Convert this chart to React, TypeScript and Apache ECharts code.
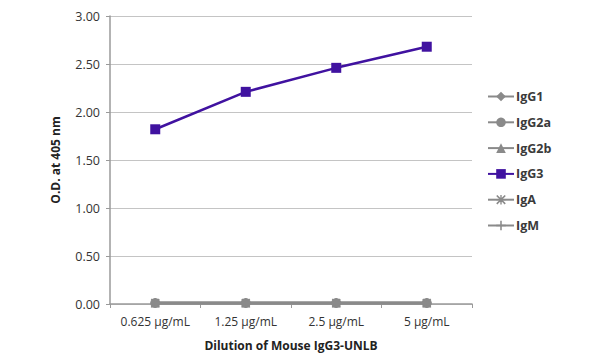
import React, { useEffect, useRef } from "react";
import * as echarts from "echarts";

const categories = ["0.625 µg/mL", "1.25 µg/mL", "2.5 µg/mL", "5 µg/mL"];
const igG1 = [0.01, 0.01, 0.01, 0.01];
const igG2a = [0.01, 0.01, 0.01, 0.01];
const igG2b = [0.01, 0.01, 0.01, 0.01];
const igG3 = [1.82, 2.21, 2.46, 2.68];
const igA = [0.01, 0.01, 0.01, 0.01];
const igM = [0.01, 0.01, 0.01, 0.01];
const yTicks = { min: 0, max: 3, interval: 0.5 };

const GRAY = "#8a8a8a";
const PURPLE = "#4012a0";
const FONT = "Open Sans";
const STAR =
  "path://M1.2,0L5,3.8L8.8,0L10,1.2L6.2,5L10,8.8L8.8,10L5,6.2L1.2,10L0,8.8L3.8,5L0,1.2Z M4.3,0H5.7V4.3H10V5.7H5.7V10H4.3V5.7H0V4.3H4.3Z";
const PLUS = "path://M4.2,0H5.8V4.2H10V5.8H5.8V10H4.2V5.8H0V4.2H4.2Z";

export default function App() {
  const ref = useRef<HTMLDivElement>(null);
  useEffect(() => {
    const chart = echarts.init(ref.current!, null, { renderer: "svg" });
    const graySeries = (name: string, data: number[], symbol: string, size: number) => ({
      name,
      type: "line",
      data,
      symbol,
      symbolSize: size,
      lineStyle: { color: GRAY, width: 2.5 },
      itemStyle: { color: GRAY },
      z: 3,
    });
    chart.setOption({
      animation: false,
      textStyle: { fontFamily: FONT },
      grid: { left: 110, right: 128, top: 16, bottom: 57 },
      legend: {
        orient: "vertical",
        left: 482,
        top: 85,
        itemWidth: 26,
        itemHeight: 12,
        itemGap: 12.8,
        textStyle: { fontFamily: FONT, fontSize: 12.5, fontWeight: "bold", color: "#3a3a3a", padding: [0, 0, 0, -3] },
        data: ["IgG1", "IgG2a", "IgG2b", "IgG3", "IgA", "IgM"],
      },
      xAxis: {
        type: "category",
        data: categories,
        boundaryGap: true,
        axisLine: { lineStyle: { color: "#9a9a9a", width: 1.5 } },
        axisTick: { show: true, lineStyle: { color: "#9a9a9a" }, length: 4 },
        axisLabel: { color: "#333", fontSize: 12, margin: 11, fontFamily: FONT, interval: 0 },
        name: "Dilution of Mouse IgG3-UNLB",
        nameLocation: "middle",
        nameGap: 35,
        nameTextStyle: { fontWeight: "bold", fontSize: 12, color: "#222", fontFamily: FONT },
      },
      yAxis: {
        type: "value",
        min: yTicks.min,
        max: yTicks.max,
        interval: yTicks.interval,
        axisLine: { show: true, lineStyle: { color: "#9a9a9a", width: 1.5 } },
        axisTick: { show: true, lineStyle: { color: "#9a9a9a" }, length: 4 },
        splitLine: { show: true, lineStyle: { color: "#c4c4c4", width: 1 } },
        axisLabel: {
          color: "#333",
          fontSize: 12.5,
          margin: 10,
          fontFamily: FONT,
          formatter: (v: number) => v.toFixed(2),
        },
        name: "O.D. at 405 nm",
        nameLocation: "middle",
        nameGap: 49,
        nameTextStyle: { fontWeight: "bold", fontSize: 12, color: "#222", fontFamily: FONT },
      },
      series: [
        graySeries("IgG1", igG1, "diamond", 9),
        graySeries("IgG2a", igG2a, "circle", 10),
        graySeries("IgG2b", igG2b, "triangle", 9),
        {
          name: "IgG3",
          type: "line",
          data: igG3,
          symbol: "rect",
          symbolSize: 10,
          lineStyle: { color: PURPLE, width: 2.5 },
          itemStyle: { color: PURPLE },
          z: 4,
        },
        graySeries("IgA", igA, STAR, 9),
        graySeries("IgM", igM, PLUS, 9),
      ],
    });
    return () => chart.dispose();
  }, []);
  return <div ref={ref} style={{ width: 600, height: 361, margin: -8 }} />;
}
